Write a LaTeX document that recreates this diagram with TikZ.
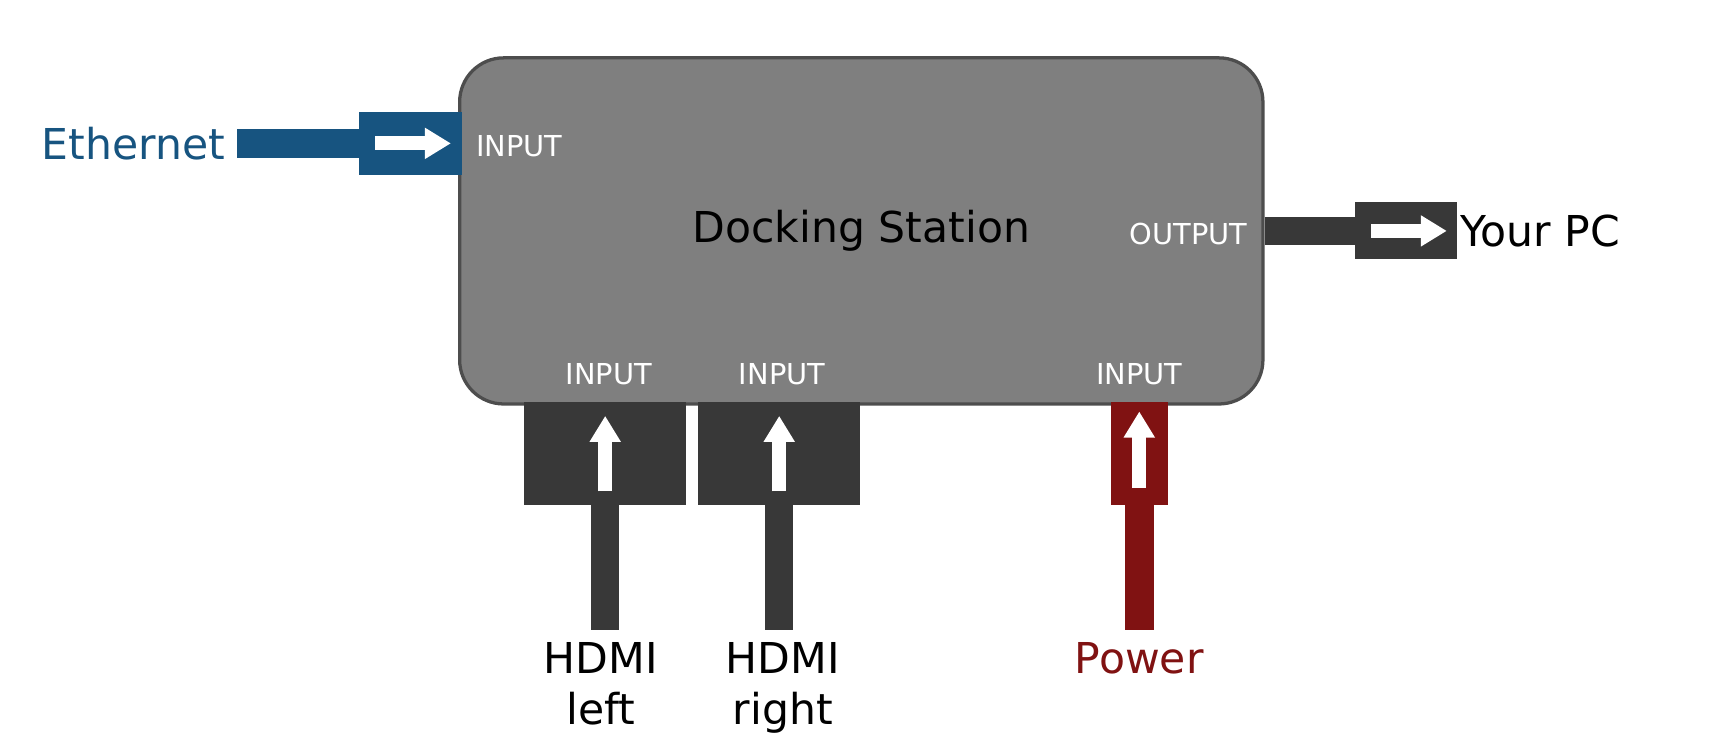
\documentclass[tikz,border=0pt]{standalone}
\usepackage{fontspec}
\setmainfont{DejaVu Sans}
\usetikzlibrary{arrows.meta,calc,positioning}

\definecolor{netblue}{RGB}{23,84,128}
\definecolor{pwrred}{RGB}{128,18,18}
\definecolor{plug}{RGB}{56,56,56}
\definecolor{dockgray}{RGB}{127,127,127}
\definecolor{dockedge}{RGB}{77,77,77}

\begin{document}
\begin{tikzpicture}[x=0.010944cm, y=-0.010944cm,
  port/.style={rectangle, inner sep=0pt, outer sep=0pt},
  cable/.style={line width=2.85mm},
  flow/.style={white, line width=1.42mm, -{Triangle[length=2.6mm,width=2.95mm]}},
  tag/.style={text=white, font=\fontsize{8.2}{10}\selectfont},
  big/.style={font=\fontsize{12.1}{14.6}\selectfont, align=center}]
\useasboundingbox (0,0) rectangle (1568,690);

% the docking station
\node[draw=dockedge, line width=0.93pt, fill=dockgray, rounded corners=0.44cm,
  minimum width=8.03cm, minimum height=3.46cm, big] (dock) at (787,211) {Docking Station};

% ports
\node[port, fill=netblue, minimum width=1.03cm, minimum height=0.635cm] (ethport) at (375,131) {};
\node[port, fill=plug, minimum width=1.018cm, minimum height=0.569cm] (pcport) at (1284.5,211) {};
\node[port, fill=plug, minimum width=1.62cm, minimum height=1.03cm] (hdmilport) at (553,414) {};
\node[port, fill=plug, minimum width=1.62cm, minimum height=1.03cm] (hdmirport) at (712,414) {};
\node[port, fill=pwrred, minimum width=0.569cm, minimum height=1.03cm] (pwrport) at (1041,414) {};

\draw[flow] ($(ethport)+(-32,0)$) -- ($(ethport)+(37,0)$);
\draw[flow] ($(pcport)+(-31.5,0)$) -- ($(pcport)+(37.5,0)$);
\draw[flow] ($(hdmilport)+(0,35)$) -- ($(hdmilport)+(0,-34)$);
\draw[flow] ($(hdmirport)+(0,35)$) -- ($(hdmirport)+(0,-34)$);
\draw[flow] ($(pwrport)+(0,32)$) -- ($(pwrport)+(0,-38)$);

% port tags
\node[tag, right=0.02cm of ethport, yshift=-0.9pt] (ethtag) {INPUT};
\node[tag, left=0.05cm of dock.east, yshift=-0.9pt] (outtag) {OUTPUT};
\node[tag, above=0.045cm of hdmilport, xshift=1pt] (hdmiltag) {INPUT};
\node[tag, above=0.045cm of hdmirport, xshift=0.8pt] (hdmirtag) {INPUT};
\node[tag, above=0.045cm of pwrport] (pwrtag) {INPUT};

% what is plugged in
\node[big, text=netblue, left=1.215cm of ethport] (eth) {Ethernet};
\node[big, right=-0.09cm of pcport] (pc) {Your PC};
\node[big, below=1.25cm of hdmilport, xshift=-1.3pt] (hdmil) {HDMI\\left};
\node[big, below=1.25cm of hdmirport, xshift=1pt] (hdmir) {HDMI\\right};
\node[big, text=pwrred, below=1.25cm of pwrport] (pwr) {Power};

% cables
\draw[cable, netblue] (eth.east) -- (ethport.west);
\draw[cable, plug] (dock.east |- pcport.west) -- (pcport.west);
\draw[cable, plug] (hdmilport.south) -- (hdmilport.south |- hdmil.north);
\draw[cable, plug] (hdmirport.south) -- (hdmirport.south |- hdmir.north);
\draw[cable, pwrred] (pwrport.south) -- (pwrport.south |- pwr.north);

\end{tikzpicture}
\end{document}
